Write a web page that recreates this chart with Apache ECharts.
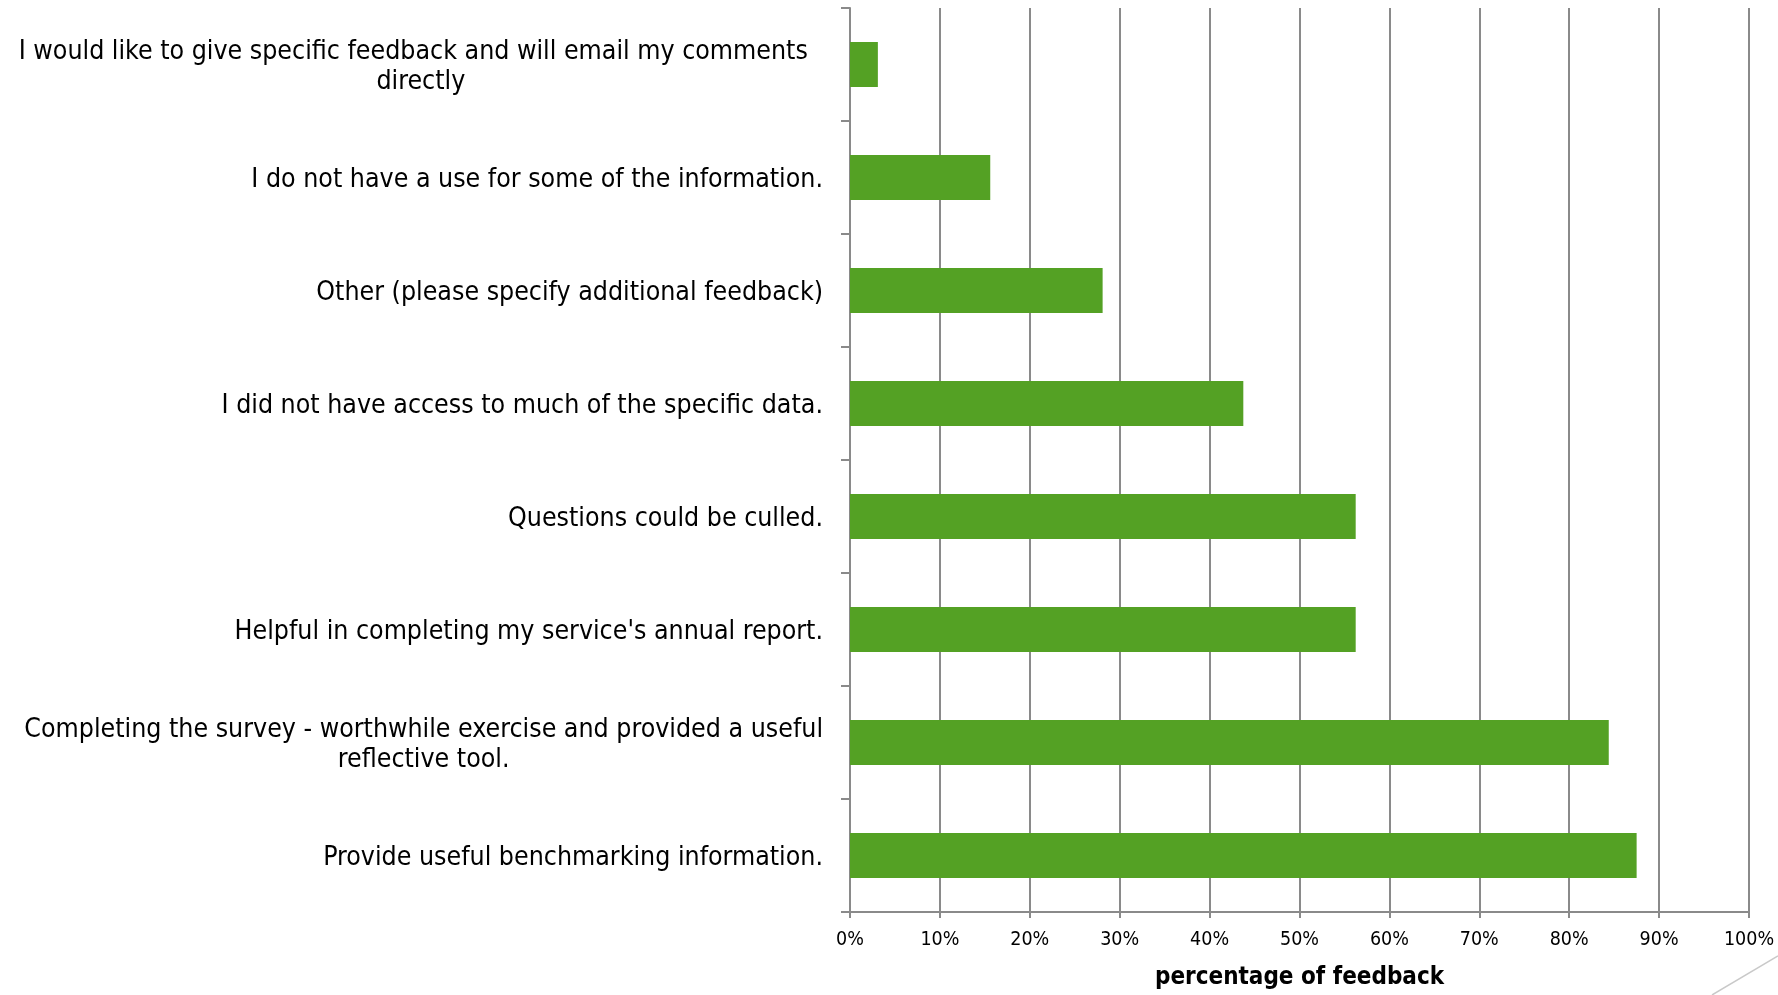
<!DOCTYPE html>
<html>
<head>
<meta charset="utf-8">
<script src="https://cdn.jsdelivr.net/npm/echarts@6/dist/echarts.min.js"></script>
<style>
  html, body { margin: 0; padding: 0; background: #ffffff; }
  #chart { width: 1778px; height: 995px; }
</style>
</head>
<body>
<div id="chart"></div>
<script>
// Survey feedback responses, listed top to bottom
const categories = [
  'I would like to give specific feedback and will email my comments  \ndirectly',
  'I do not have a use for some of the information.',
  'Other (please specify additional feedback)',
  'I did not have access to much of the specific data.',
  'Questions could be culled.',
  "Helpful in completing my service's annual report.",
  'Completing the survey - worthwhile exercise and provided a useful\nreflective tool.',
  'Provide useful benchmarking information.'
];
// Share of respondents (%)
const percentages = [3.1, 15.6, 28.1, 43.75, 56.25, 56.25, 84.4, 87.5];
const xTicks = [0, 10, 20, 30, 40, 50, 60, 70, 80, 90, 100];
const axisTitle = 'percentage of feedback';

const FONT = '"DejaVu Sans Condensed", "DejaVu Sans", "Liberation Sans", sans-serif';
const GRAY = '#8a8a8a';

const chart = echarts.init(document.getElementById('chart'), null, { renderer: 'canvas' });

chart.setOption({
  backgroundColor: '#ffffff',
  animation: false,
  grid: { left: 850, right: 29, top: 8, bottom: 81, containLabel: false },
  xAxis: {
    type: 'value',
    min: xTicks[0],
    max: xTicks[xTicks.length - 1],
    interval: 10,
    name: axisTitle,
    nameLocation: 'middle',
    nameGap: 54,
    nameTextStyle: { fontFamily: FONT, fontSize: 24, fontWeight: 'bold', color: '#000' },
    axisLine: { show: true, lineStyle: { color: GRAY, width: 2 } },
    axisTick: { show: true, length: 6, lineStyle: { color: GRAY, width: 2 } },
    axisLabel: {
      margin: 18,
      fontFamily: FONT,
      fontSize: 19.5,
      color: '#000',
      formatter: v => v + '%'
    },
    splitLine: { show: true, lineStyle: { color: GRAY, width: 2 } }
  },
  yAxis: {
    type: 'category',
    inverse: true,
    data: categories,
    axisLine: { show: true, onZero: false, lineStyle: { color: GRAY, width: 2 } },
    axisTick: { show: true, length: 9, alignWithLabel: false, lineStyle: { color: GRAY, width: 2 } },
    axisLabel: {
      margin: 27,
      align: 'right',
      padding: [6, 0, 0, 0],
      formatter: v => v.split('\n').map(s => '{c|' + s + '}').join('\n'),
      rich: {
        c: { align: 'center', fontFamily: FONT, fontSize: 26.5, lineHeight: 30, color: '#000' }
      }
    },
    splitLine: { show: false }
  },
  series: [{
    type: 'bar',
    data: percentages,
    barWidth: '40%',
    itemStyle: { color: '#54a124' },
    z: 3
  }],
  graphic: [{
    type: 'line',
    shape: { x1: 1712, y1: 995, x2: 1778, y2: 956 },
    style: { stroke: '#c9c9c9', lineWidth: 1.5 }
  }]
});
</script>
</body>
</html>
